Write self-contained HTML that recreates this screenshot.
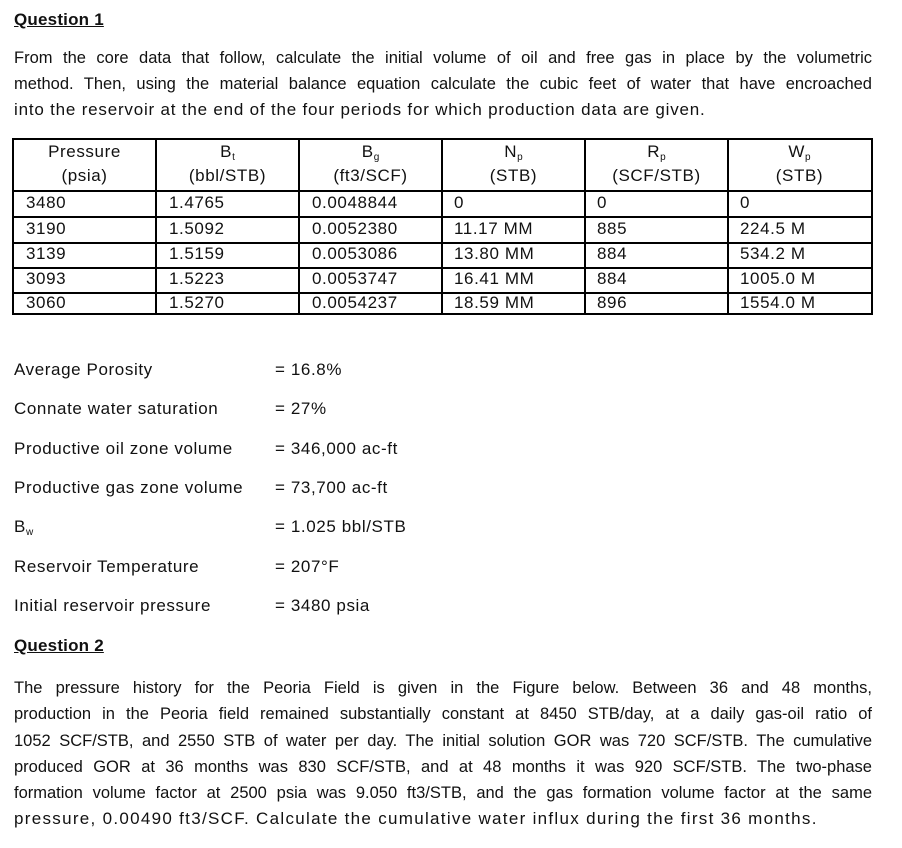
<!DOCTYPE html>
<html><head><meta charset="utf-8"><style>
body{margin:0;background:#fff;width:902px;height:848px;position:relative;font-family:"Liberation Sans",Arial,sans-serif;color:#111;font-size:17px;letter-spacing:0.6px;overflow:hidden}
.a{position:absolute;white-space:nowrap;line-height:20px}
.j{position:absolute;left:14px;width:858px;text-align:justify;text-align-last:justify;line-height:20px;white-space:nowrap;font-size:16.5px;letter-spacing:0}
.b{font-weight:bold;text-decoration:underline;letter-spacing:0.2px}
.h{position:absolute;background:#000;height:2px}
.v{position:absolute;background:#000;width:2px;top:138px;height:177px}
.c{position:absolute;width:143px;text-align:center;line-height:24px}
sub{font-size:10px;vertical-align:baseline;position:relative;top:3px;line-height:0;letter-spacing:0}
</style></head><body>
<div class="a b" style="left:14px;top:10px">Question 1</div>
<div class="j" style="top:48px">From the core data that follow, calculate the initial volume of oil and free gas in place by the volumetric</div>
<div class="j" style="top:74px">method. Then, using the material balance equation calculate the cubic feet of water that have encroached</div>
<div class="a" style="left:14px;top:100px;letter-spacing:0.8px">into the reservoir at the end of the four periods for which production data are given.</div>

<div class="h" style="left:13px;width:860px;top:138px"></div>
<div class="h" style="left:13px;width:860px;top:190px"></div>
<div class="h" style="left:13px;width:860px;top:216px"></div>
<div class="h" style="left:13px;width:860px;top:242px"></div>
<div class="h" style="left:13px;width:860px;top:267px"></div>
<div class="h" style="left:13px;width:860px;top:292px"></div>
<div class="h" style="left:13px;width:860px;top:313px"></div>
<div class="v" style="left:12px"></div><div class="v" style="left:155px"></div><div class="v" style="left:298px"></div>
<div class="v" style="left:441px"></div><div class="v" style="left:584px"></div><div class="v" style="left:727px"></div><div class="v" style="left:871px"></div>

<div class="c" style="left:13px;top:140px">Pressure<br>(psia)</div>
<div class="c" style="left:156px;top:140px">B<sub>t</sub><br>(bbl/STB)</div>
<div class="c" style="left:299px;top:140px">B<sub>g</sub><br>(ft3/SCF)</div>
<div class="c" style="left:442px;top:140px">N<sub>p</sub><br>(STB)</div>
<div class="c" style="left:585px;top:140px">R<sub>p</sub><br>(SCF/STB)</div>
<div class="c" style="left:728px;top:140px">W<sub>p</sub><br>(STB)</div>

<div class="a" style="left:26px;top:193px">3480</div><div class="a" style="left:169px;top:193px">1.4765</div><div class="a" style="left:312px;top:193px">0.0048844</div><div class="a" style="left:454px;top:193px">0</div><div class="a" style="left:597px;top:193px">0</div><div class="a" style="left:740px;top:193px">0</div>
<div class="a" style="left:26px;top:219px">3190</div><div class="a" style="left:169px;top:219px">1.5092</div><div class="a" style="left:312px;top:219px">0.0052380</div><div class="a" style="left:454px;top:219px">11.17 MM</div><div class="a" style="left:597px;top:219px">885</div><div class="a" style="left:740px;top:219px">224.5 M</div>
<div class="a" style="left:26px;top:244px">3139</div><div class="a" style="left:169px;top:244px">1.5159</div><div class="a" style="left:312px;top:244px">0.0053086</div><div class="a" style="left:454px;top:244px">13.80 MM</div><div class="a" style="left:597px;top:244px">884</div><div class="a" style="left:740px;top:244px">534.2 M</div>
<div class="a" style="left:26px;top:269px">3093</div><div class="a" style="left:169px;top:269px">1.5223</div><div class="a" style="left:312px;top:269px">0.0053747</div><div class="a" style="left:454px;top:269px">16.41 MM</div><div class="a" style="left:597px;top:269px">884</div><div class="a" style="left:740px;top:269px">1005.0 M</div>
<div class="a" style="left:26px;top:293px">3060</div><div class="a" style="left:169px;top:293px">1.5270</div><div class="a" style="left:312px;top:293px">0.0054237</div><div class="a" style="left:454px;top:293px">18.59 MM</div><div class="a" style="left:597px;top:293px">896</div><div class="a" style="left:740px;top:293px">1554.0 M</div>

<div class="a" style="left:14px;top:360px">Average Porosity</div><div class="a" style="left:275px;top:360px">= 16.8%</div>
<div class="a" style="left:14px;top:399px">Connate water saturation</div><div class="a" style="left:275px;top:399px">= 27%</div>
<div class="a" style="left:14px;top:439px">Productive oil zone volume</div><div class="a" style="left:275px;top:439px">= 346,000 ac-ft</div>
<div class="a" style="left:14px;top:478px">Productive gas zone volume</div><div class="a" style="left:275px;top:478px">= 73,700 ac-ft</div>
<div class="a" style="left:14px;top:517px">B<sub>w</sub></div><div class="a" style="left:275px;top:517px">= 1.025 bbl/STB</div>
<div class="a" style="left:14px;top:557px">Reservoir Temperature</div><div class="a" style="left:275px;top:557px">= 207°F</div>
<div class="a" style="left:14px;top:596px">Initial reservoir pressure</div><div class="a" style="left:275px;top:596px">= 3480 psia</div>

<div class="a b" style="left:14px;top:636px">Question 2</div>
<div class="j" style="top:678px">The pressure history for the Peoria Field is given in the Figure below. Between 36 and 48 months,</div>
<div class="j" style="top:704px">production in the Peoria field remained substantially constant at 8450 STB/day, at a daily gas-oil ratio of</div>
<div class="j" style="top:731px">1052 SCF/STB, and 2550 STB of water per day. The initial solution GOR was 720 SCF/STB. The cumulative</div>
<div class="j" style="top:757px">produced GOR at 36 months was 830 SCF/STB, and at 48 months it was 920 SCF/STB. The two-phase</div>
<div class="j" style="top:783px">formation volume factor at 2500 psia was 9.050 ft3/STB, and the gas formation volume factor at the same</div>
<div class="a" style="left:14px;top:809px;letter-spacing:1.3px">pressure, 0.00490 ft3/SCF. Calculate the cumulative water influx during the first 36 months.</div>
</body></html>
